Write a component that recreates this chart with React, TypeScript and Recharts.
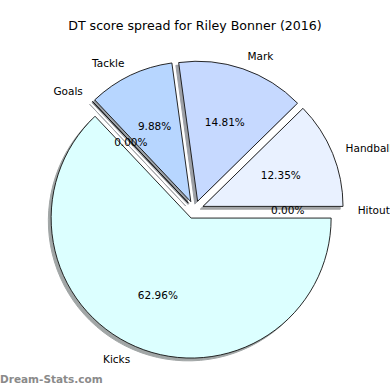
import React from 'react';
import { PieChart, Pie } from 'recharts';

const categories = ['Hitout', 'Handball', 'Mark', 'Tackle', 'Goals', 'Kicks'];
const shares = [0, 12.35, 14.81, 9.88, 0, 62.96];
const sliceColors = ['#eef4ff', '#e9f1ff', '#c6d9ff', '#b7d6ff', '#d8e8ff', '#dcffff'];

const data = categories.map((name, i) => ({ name, value: shares[i], fill: sliceColors[i] }));

const RAD = Math.PI / 180;
const EXPLODE = 9;
const FONT = '"DejaVu Sans", sans-serif';

// matplotlib-style shadow: 0.3 * colour at half alpha over white
const shadowOf = (hex: string) => {
  const n = parseInt(hex.slice(1), 16);
  const ch = [(n >> 16) & 255, (n >> 8) & 255, n & 255].map((v) => Math.round(127.5 + 0.15 * v));
  return `rgb(${ch.join(',')})`;
};

const wedgePath = (cx: number, cy: number, r: number, start: number, end: number) => {
  const x1 = cx + r * Math.cos(start * RAD);
  const y1 = cy - r * Math.sin(start * RAD);
  const x2 = cx + r * Math.cos(end * RAD);
  const y2 = cy - r * Math.sin(end * RAD);
  const large = end - start > 180 ? 1 : 0;
  return `M${cx},${cy} L${x1},${y1} A${r},${r} 0 ${large} 0 ${x2},${y2} Z`;
};

const explodedCenter = (p: any) => {
  const mid = (p.startAngle + p.endAngle) / 2;
  return [p.cx + EXPLODE * Math.cos(mid * RAD), p.cy - EXPLODE * Math.sin(mid * RAD)];
};

const WedgeShape = (p: any) => {
  const [x, y] = explodedCenter(p);
  return (
    <path
      d={wedgePath(x, y, p.outerRadius, p.startAngle, p.endAngle)}
      fill={p.payload.fill}
      stroke="#111"
      strokeWidth={0.9}
      strokeLinejoin="round"
    />
  );
};

const ShadowShape = (p: any) => {
  const [x, y] = explodedCenter(p);
  const c = shadowOf(p.payload.fill);
  return (
    <path
      d={wedgePath(x - 2.8, y + 2.8, p.outerRadius, p.startAngle, p.endAngle)}
      fill={c}
      stroke={c}
      strokeWidth={1}
    />
  );
};

const renderLabel = (p: any) => {
  const mid = (p.startAngle + p.endAngle) / 2;
  const cos = Math.cos(mid * RAD);
  const sin = Math.sin(mid * RAD);
  const [x, y] = explodedCenter(p);
  const r = p.outerRadius;
  return (
    <g>
      <text
        x={x + 1.1 * r * cos}
        y={y - 1.1 * r * sin}
        textAnchor={cos > 0 ? 'start' : 'end'}
        dominantBaseline="central"
        fontSize={10.5}
        fontFamily={FONT}
        fill="#000"
      >
        {p.name}
      </text>
      <text
        x={x + 0.6 * r * cos}
        y={y - 0.6 * r * sin}
        textAnchor="middle"
        dominantBaseline="central"
        fontSize={10.5}
        fontFamily={FONT}
        fill="#000"
      >
        {`${p.value.toFixed(2)}%`}
      </text>
    </g>
  );
};

export default function App() {
  return (
    <div style={{ position: 'absolute', left: 0, top: 0, width: 390, height: 390, background: '#fff', overflow: 'hidden' }}>
      <div
        style={{
          position: 'absolute',
          top: 18,
          left: 0,
          width: 390,
          textAlign: 'center',
          fontFamily: FONT,
          fontSize: 12.6,
          color: '#000',
        }}
      >
        DT score spread for Riley Bonner (2016)
      </div>
      <PieChart width={390} height={390} margin={{ top: 0, right: 0, bottom: 0, left: 0 }}>
        <Pie
          data={data}
          dataKey="value"
          nameKey="name"
          cx={194.7}
          cy={209.8}
          outerRadius={140}
          startAngle={0}
          endAngle={360}
          shape={ShadowShape}
          label={false}
          labelLine={false}
          isAnimationActive={false}
        />
        <Pie
          data={data}
          dataKey="value"
          nameKey="name"
          cx={194.7}
          cy={209.8}
          outerRadius={140}
          startAngle={0}
          endAngle={360}
          shape={WedgeShape}
          label={renderLabel}
          labelLine={false}
          isAnimationActive={false}
        />
      </PieChart>
      <div
        style={{
          position: 'absolute',
          left: 0,
          top: 373,
          fontFamily: FONT,
          fontSize: 10.5,
          fontWeight: 'bold',
          color: '#8a8a8a',
        }}
      >
        Dream-Stats.com
      </div>
    </div>
  );
}
